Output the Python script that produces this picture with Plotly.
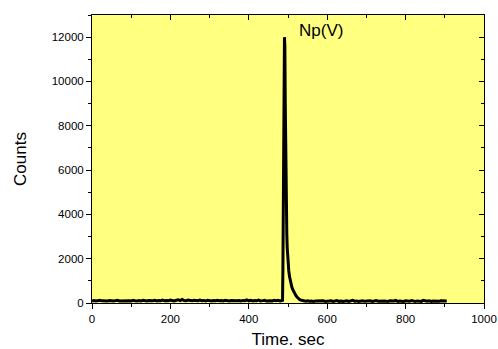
import plotly.graph_objects as go

# Detector counts before the Np(V) elution peak (sampled every 5 s, 0..485 s)
counts_pre = [95, 110, 88, 102, 120, 96, 84, 105, 92, 115, 99, 87, 108, 125, 94, 101,
              83, 112, 97, 106, 90, 118, 100, 86, 109, 95, 122, 104, 91, 113, 98, 107,
              126, 93, 111, 102, 135, 99, 117, 104, 128, 110, 96, 121, 140, 108, 162, 115,
              103, 131, 119, 98, 126, 112, 105, 134, 101, 117, 96, 123, 108, 92, 114, 103,
              127, 99, 110, 94, 118, 105, 88, 112, 101, 124, 97, 108, 91, 116, 103, 143,
              99, 120, 94, 110, 102, 128, 96, 107, 121, 92, 113, 104, 89, 118, 100, 122,
              95, 108]
time_pre = list(range(0, 490, 5))

# Np(V) peak and its tail
time_peak = [486, 487, 488, 489, 490, 491, 492, 493, 494, 495, 496, 497, 498, 499, 500,
             502, 504, 506, 508, 510, 512, 514, 516, 518, 520, 523, 526, 530]
counts_peak = [120, 1500, 4000, 7500, 10500, 12000, 11600, 9000, 6500, 4800, 3800, 3100,
               2500, 2100, 1800, 1450, 1180, 980, 830, 710, 610, 530, 460, 400, 340, 270,
               210, 150]

# Counts after the peak (every 5 s, 535..905 s)
counts_post = [120, 95, 84, 102, 78, 91, 69, 88, 97, 74, 86, 105, 72, 90, 81, 99, 70, 87,
               112, 76, 93, 68, 85, 101, 73, 89, 118, 80, 94, 71, 87, 104, 75, 92, 83, 98,
               69, 86, 108, 77, 91, 72, 95, 84, 70, 102, 79, 88, 115, 74, 93, 81, 67, 97,
               85, 76, 109, 83, 71, 94, 88, 73, 120, 86, 78, 99, 70, 91, 82, 104, 75, 96,
               87, 110, 92]
time_post = list(range(535, 910, 5))

time_s = time_pre + time_peak + time_post
counts = counts_pre + counts_peak + counts_post

x_ticks = [0, 200, 400, 600, 800, 1000]
y_ticks = [0, 2000, 4000, 6000, 8000, 10000, 12000]
x_range = [0, 1000]
y_range = [0, 13000]

FONT = "Arial, Liberation Sans, sans-serif"

fig = go.Figure()
fig.add_trace(go.Scatter(x=time_s, y=counts, mode="lines",
                         line=dict(color="black", width=3), showlegend=False))
# empty trace so the mirrored top/right axes get drawn
fig.add_trace(go.Scatter(x=[], y=[], xaxis="x2", yaxis="y2", showlegend=False,
                         hoverinfo="skip"))

axis_common = dict(showgrid=False, zeroline=False, showline=True, linecolor="black",
                   linewidth=1, tickcolor="black", tickwidth=1, automargin=False,
                   tickfont=dict(family=FONT, size=11.5, color="black"))

fig.update_layout(
    width=498, height=349,
    margin=dict(l=92, r=14, t=15, b=46),
    paper_bgcolor="white",
    plot_bgcolor="#FFFF80",
    xaxis=dict(range=x_range, tickvals=x_ticks, ticks="outside", ticklen=5,
               minor=dict(dtick=100, ticks="outside", ticklen=3, tickcolor="black"),
               title=dict(text="Time. sec", font=dict(family=FONT, size=17, color="black"),
                          standoff=11),
               **axis_common),
    yaxis=dict(range=y_range, tickvals=y_ticks, tickformat="d", ticks="outside", ticklen=5,
               minor=dict(dtick=1000, ticks="outside", ticklen=3, tickcolor="black"),
               title=dict(text="Counts", font=dict(family=FONT, size=17, color="black"),
                          standoff=20),
               **axis_common),
    xaxis2=dict(range=x_range, overlaying="x", side="top", anchor="y", tickvals=x_ticks,
                ticks="inside", ticklen=5, showticklabels=False,
                minor=dict(dtick=100, ticks="inside", ticklen=3, tickcolor="black"),
                **axis_common),
    yaxis2=dict(range=y_range, overlaying="y", side="right", anchor="x", tickvals=y_ticks,
                ticks="inside", ticklen=5, showticklabels=False,
                minor=dict(dtick=1000, ticks="inside", ticklen=3, tickcolor="black"),
                **axis_common),
    annotations=[dict(x=523, y=12300, xref="x", yref="y", text="Np(V)", showarrow=False,
                      xanchor="left", yanchor="middle",
                      font=dict(family=FONT, size=17, color="black"))],
)

fig.write_html("out.html")
